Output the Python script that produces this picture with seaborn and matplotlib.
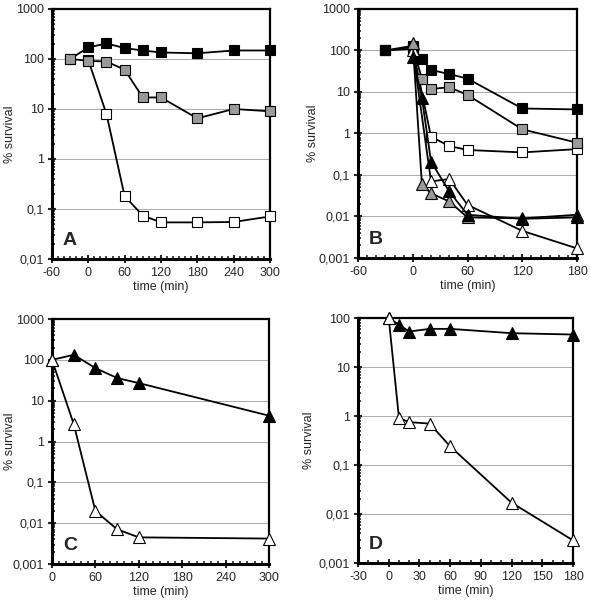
import numpy as np
import matplotlib
matplotlib.use("Agg")
import matplotlib.pyplot as plt
import seaborn as sns
from matplotlib.ticker import LogLocator, FixedLocator, MultipleLocator, NullFormatter

# Panel A (x: time in min, y: % survival)
a_time = [-30, 0, 30, 60, 90, 120, 180, 240, 300]
a_black_sq = [100, 170, 205, 165, 148, 135, 130, 148, 148]
a_gray_sq = [100, 92, 89, 61, 17, 17, 6.5, 10, 9]
a_white_time = [0, 30, 60, 90, 120, 180, 240, 300]
a_white_sq = [95, 7.9, 0.18, 0.074, 0.054, 0.054, 0.055, 0.071]

# Panel B
b_sq_time = [-30, 0, 10, 20, 40, 60, 120, 180]
b_black_sq = [100, 130, 61, 34, 27, 21, 4.0, 3.8]
b_gray_sq = [100, 120, 21, 11.8, 13, 8.5, 1.26, 0.6]
b_white_sq_time = [-30, 0, 20, 40, 60, 120, 180]
b_white_sq = [100, 110, 0.83, 0.5, 0.4, 0.35, 0.42]
b_tri_time = [0, 10, 20, 40, 60, 120, 180]
b_black_tri = [70, 7.2, 0.21, 0.04, 0.011, 0.0088, 0.0095]
b_gray_tri = [150, 0.06, 0.036, 0.023, 0.0095, 0.009, 0.011]
b_white_tri_time = [0, 20, 40, 60, 120, 180]
b_white_tri = [100, 0.07, 0.08, 0.019, 0.0045, 0.0017]

# Panel C
c_time = [0, 30, 60, 90, 120, 300]
c_black_tri = [100, 133, 63, 36, 27, 4.3]
c_white_tri = [100, 2.7, 0.020, 0.0071, 0.0045, 0.0042]

# Panel D
d_time = [0, 10, 20, 40, 60, 120, 180]
d_black_tri = [100, 73, 53, 60, 60, 49, 46]
d_white_tri = [100, 0.91, 0.75, 0.70, 0.24, 0.017, 0.0029]

GRAY = "#9a9a9a"
FONT = "Liberation Sans"

sns.set_style("white")
plt.rcParams["font.family"] = [FONT, "DejaVu Sans"]

fig = plt.figure(figsize=(5.9, 6.07), dpi=100)


def series(ax, x, y, marker, face, ms):
    sns.lineplot(x=x, y=y, ax=ax, color="black", linewidth=1.3, marker=marker,
                 markersize=ms, markerfacecolor=face, markeredgecolor="black",
                 markeredgewidth=0.8, sort=False, clip_on=False)


def style(ax, xlim, xticks, ylim, letter, ylab_x):
    ax.set_yscale("log")
    ax.set_xlim(xlim)
    ax.set_ylim(ylim)
    decades = [10.0 ** k for k in range(int(np.log10(ylim[0])), int(np.log10(ylim[1])) + 1)]
    labels = {0.001: "0,001", 0.01: "0,01", 0.1: "0,1", 1: "1", 10: "10", 100: "100", 1000: "1000"}
    ax.yaxis.set_major_locator(FixedLocator(decades))
    ax.set_yticklabels([labels[round(d, 3) if d < 1 else int(d)] for d in decades])
    ax.yaxis.set_minor_locator(LogLocator(base=10, subs=np.arange(2, 10)))
    ax.yaxis.set_minor_formatter(NullFormatter())
    ax.set_xticks(xticks)
    ax.set_xticklabels([str(t) for t in xticks])
    ax.xaxis.set_minor_locator(MultipleLocator(10))
    ax.tick_params(axis="both", which="major", direction="inout", length=6, width=1.5,
                   labelsize=9, pad=3)
    ax.tick_params(axis="both", which="minor", direction="in", length=2.5, width=1.2)
    ax.tick_params(axis="both", which="both", left=True, bottom=True, right=False, top=False)
    for d in decades[1:-1]:
        ax.axhline(d, color="#aaaaaa", linewidth=0.7, zorder=0)
    for side in ["left", "bottom"]:
        ax.spines[side].set_linewidth(2.2)
    for side in ["right", "top"]:
        ax.spines[side].set_linewidth(1.6)
    for s in ax.spines.values():
        s.set_color("black")
        s.set_zorder(1)
    ax.set_xlabel("time (min)", fontsize=9, labelpad=1.5)
    ax.set_ylabel("% survival", fontsize=9)
    ax.yaxis.set_label_coords(ylab_x, 0.5)
    ax.text(0.05, 0.04, letter, transform=ax.transAxes, fontsize=14, fontweight="bold",
            ha="left", va="bottom")


# A
axA = fig.add_axes([0.0881, 0.5733, 0.3695, 0.4119])
series(axA, a_white_time, a_white_sq, "s", "white", 7.5)
series(axA, a_time, a_black_sq, "s", "black", 7.5)
series(axA, a_time, a_gray_sq, "s", GRAY, 7.5)
style(axA, (-60, 300), [-60, 0, 60, 120, 180, 240, 300], (0.01, 1000), "A", -0.165)

# B
axB = fig.add_axes([0.6068, 0.5750, 0.3712, 0.4102])
series(axB, b_white_sq_time, b_white_sq, "s", "white", 7.5)
series(axB, b_sq_time, b_gray_sq, "s", GRAY, 7.5)
series(axB, b_sq_time, b_black_sq, "s", "black", 7.5)
series(axB, b_white_tri_time, b_white_tri, "^", "white", 8)
series(axB, b_tri_time, b_gray_tri, "^", GRAY, 8)
series(axB, b_tri_time, b_black_tri, "^", "black", 8)
style(axB, (-60, 180), [-60, 0, 60, 120, 180], (0.001, 1000), "B", -0.18)

# C
axC = fig.add_axes([0.0881, 0.0708, 0.3678, 0.4036])
series(axC, c_time, c_black_tri, "^", "black", 8)
series(axC, c_time, c_white_tri, "^", "white", 8)
style(axC, (0, 300), [0, 60, 120, 180, 240, 300], (0.001, 1000), "C", -0.165)

# D
axD = fig.add_axes([0.6068, 0.0725, 0.3644, 0.4036])
series(axD, d_time, d_black_tri, "^", "black", 8)
series(axD, d_time, d_white_tri, "^", "white", 8)
style(axD, (-30, 180), [-30, 0, 30, 60, 90, 120, 150, 180], (0.001, 100), "D", -0.2)

fig.savefig("out.png", dpi=100)
